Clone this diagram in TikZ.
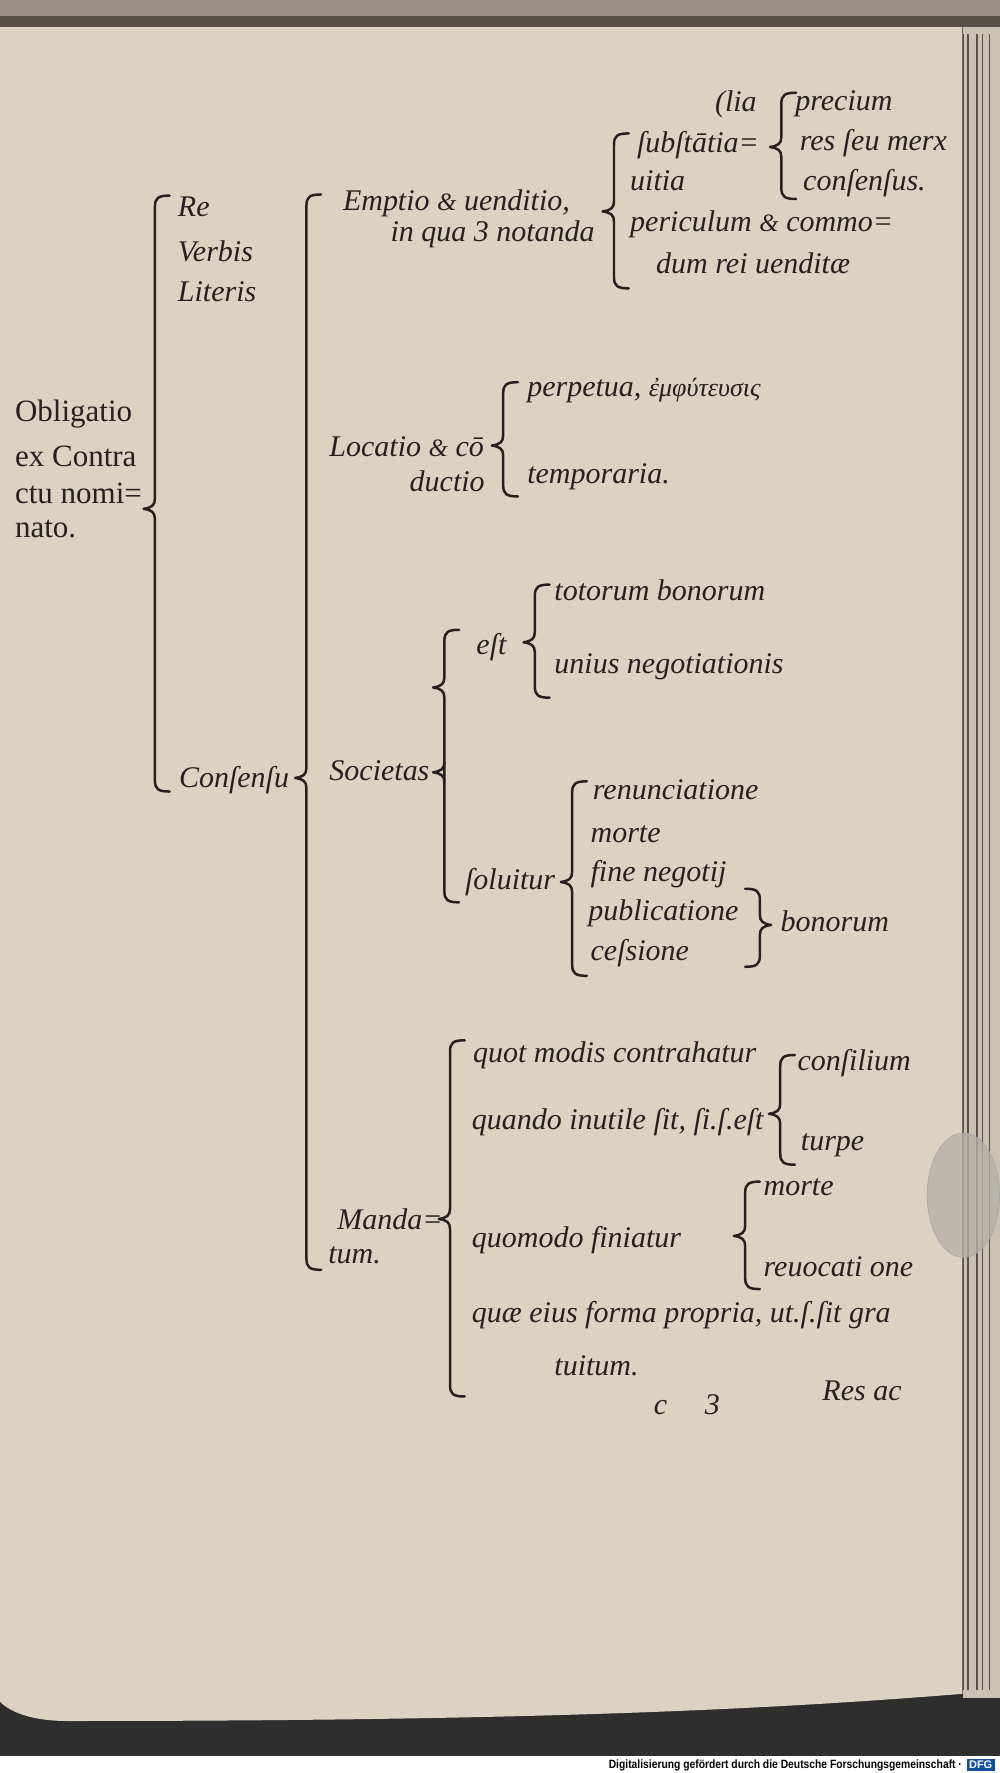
\documentclass[tikz,border=0pt]{standalone}
\usepackage{fontspec}
\setmainfont{Liberation Serif}
\setsansfont{Liberation Sans}
\usetikzlibrary{positioning}

\definecolor{papier}{RGB}{219,210,194}
\definecolor{tinte}{RGB}{38,33,30}
\definecolor{rand}{RGB}{86,80,70}
\definecolor{dfgblau}{RGB}{20,80,160}

\newcommand{\et}{{\fontsize{12.5}{13}\selectfont\&}}

% brace: [direction]{x}{top}{cusp}{bottom}
\newcommand{\klammer}[5][1]{%
        \pgfmathsetmacro\kh{#2+13*(#1)}%
        \pgfmathsetmacro\kc{#2+3*(#1)}%
        \pgfmathsetmacro\kt{#2-10*(#1)}%
        \pgfmathsetmacro\kd{#2-3*(#1)}%
        \draw[brace] (\kh,#3) .. controls (\kc,#3) and (#2,{#3+2}) .. (#2,{#3+10})
                -- (#2,{#4-9}) .. controls (#2,{#4-3}) and (\kd,{#4-1}) .. (\kt,#4)
                .. controls (\kd,{#4+1}) and (#2,{#4+3}) .. (#2,{#4+9})
                -- (#2,{#5-10}) .. controls (#2,{#5-2}) and (\kc,#5) .. (\kh,#5);}

\begin{document}
\begin{tikzpicture}[x=0.5655pt,y=-0.5655pt,
        brace/.style={tinte, line width=1.25pt, line cap=round, line join=round},
        txt/.style={anchor=west, inner sep=0pt, text=tinte, font=\itshape\fontsize{15}{17}\selectfont},
        rom/.style={txt, font=\fontsize{15.5}{17}\selectfont}]
        \useasboundingbox (0,0) rectangle (884,1568);
        % scan surroundings
        \fill[white] (0,0) rectangle (884,1568);
        \fill[black!82] (0,0) rectangle (884,1553);
        \fill[rand!50!papier] (0,0) rectangle (884,16);
        \fill[rand] (0,14) rectangle (884,25);
        \fill[papier!92!black] (852,24) rectangle (884,1502);
        \foreach \x in {852,856,864,869,875}
                \draw[rand, line width=0.6pt] (\x,30) -- (\x,1495);
        \fill[papier] (0,24) -- (851,24) -- (851,1498) .. controls (700,1510) and (500,1522) .. (60,1522)
                .. controls (30,1522) and (10,1515) .. (0,1505) -- cycle;
        \filldraw[draw=gray!70, fill=gray!40!papier, opacity=0.8] (852,1057) ellipse (32 and 55);

        \node[rom] (oblig) at (13,366) {Obligatio};
        \node[rom] (excon) at (13,404) {ex Contra};
        \node[rom] (ctu) at (13,436) {ctu nomi=};
        \node[rom] (nato) at (13,468) {nato.};

        \klammer{137}{173}{450}{700}
        \node[txt] (re) at (157,183) {Re};
        \node[txt] (verbis) at (157,222) {Verbis};
        \node[txt] (literis) at (157,258) {Literis};
        \node[txt] (consensu) at (158,690) {Conſenſu};

        \klammer{271}{172}{688}{1123}
        \node[txt] (emptio) at (303,180) {Emptio \et{} uenditio,};
        \node[txt] (inqua) at (345,207) {in qua 3 notanda};
        \node[txt] (locatio) at (291,395) {Locatio \et{} cō};
        \node[txt] (ductio) at (362,426) {ductio};
        \node[txt] (societas) at (291,682) {Societas};
        \node[txt] (manda) at (298,1078) {Manda=};
        \node[txt] (tum) at (290,1110) {tum.};

        \klammer{543}{118}{187}{255}
        \node[txt] (subst) at (563,128) {ſubſtātia=};
        \node[txt] (lia) at (632,92) {(lia};
        \node[txt] (uitia) at (557,160) {uitia};
        \node[txt] (pericul) at (557,198) {periculum \et{} commo=};
        \node[txt] (dumrei) at (580,233) {dum rei uenditæ};

        \klammer{691}{82}{130}{176}
        \node[txt] (precium) at (703,92) {precium};
        \node[txt] (res) at (707,127) {res ſeu merx};
        \node[txt] (consens) at (710,162) {conſenſus.};

        \klammer{445}{338}{394}{439}
        \node[txt] (perpetua) at (466,345) {perpetua, {\fontsize{13}{15}\selectfont ἐμφύτευσις}};
        \node[txt] (tempor) at (466,422) {temporaria.};

        \klammer{393}{557}{608}{798}
        \draw[brace] (393,674) .. controls (393,680) and (390,682) .. (383,683) .. controls (390,684) and (393,686) .. (393,692);
        \node[txt] (est) at (421,572) {eſt};
        \klammer{473}{517}{568}{617}
        \node[txt] (totorum) at (490,522) {totorum bonorum};
        \node[txt] (unius) at (490,590) {unius negotiationis};
        \node[txt] (soluitur) at (411,780) {ſoluitur};
        \klammer{506}{691}{780}{863}
        \node[txt] (renunc) at (524,698) {renunciatione};
        \node[txt] (morte) at (522,738) {morte};
        \node[txt] (fine) at (522,773) {fine negotij};
        \node[txt] (public) at (520,808) {publicatione};
        \node[txt] (cessione) at (522,843) {ceſsione};
        \klammer[-1]{672}{786}{818}{855}
        \node[txt] (bonorum) at (690,815) {bonorum};

        \klammer{398}{920}{1078}{1235}
        \node[txt] (quot) at (418,933) {quot modis contrahatur};
        \node[txt] (quando) at (417,992) {quando inutile ſit, ſi.ſ.eſt};
        \klammer{690}{933}{985}{1030}
        \node[txt] (consil) at (705,940) {conſilium};
        \node[txt] (turpe) at (708,1013) {turpe};
        \node[txt] (quomodo) at (417,1097) {quomodo finiatur};
        \klammer{659}{1045}{1093}{1140}
        \node[txt] (morte2) at (675,1050) {morte};
        \node[txt] (reuoc) at (675,1120) {reuocati one};
        \node[txt] (quae) at (417,1163) {quæ eius forma propria, ut.ſ.ſit gra};
        \node[txt] (tuitum) at (490,1208) {tuitum.};
        \node[txt] (sig) at (578,1242) {c \quad 3};
        \node[txt] (custos) at (727,1230) {Res ac};

        \node[anchor=east, inner sep=0pt, xscale=0.86, font=\sffamily\bfseries\fontsize{6}{7}\selectfont] (digi) at (851,1561)
                {Digitalisierung gefördert durch die Deutsche Forschungsgemeinschaft ·};
        \node[right=2pt of digi, fill=dfgblau, text=white, inner sep=1.2pt, font=\sffamily\bfseries\fontsize{5.5}{6}\selectfont] (dfg) {DFG};
\end{tikzpicture}
\end{document}
